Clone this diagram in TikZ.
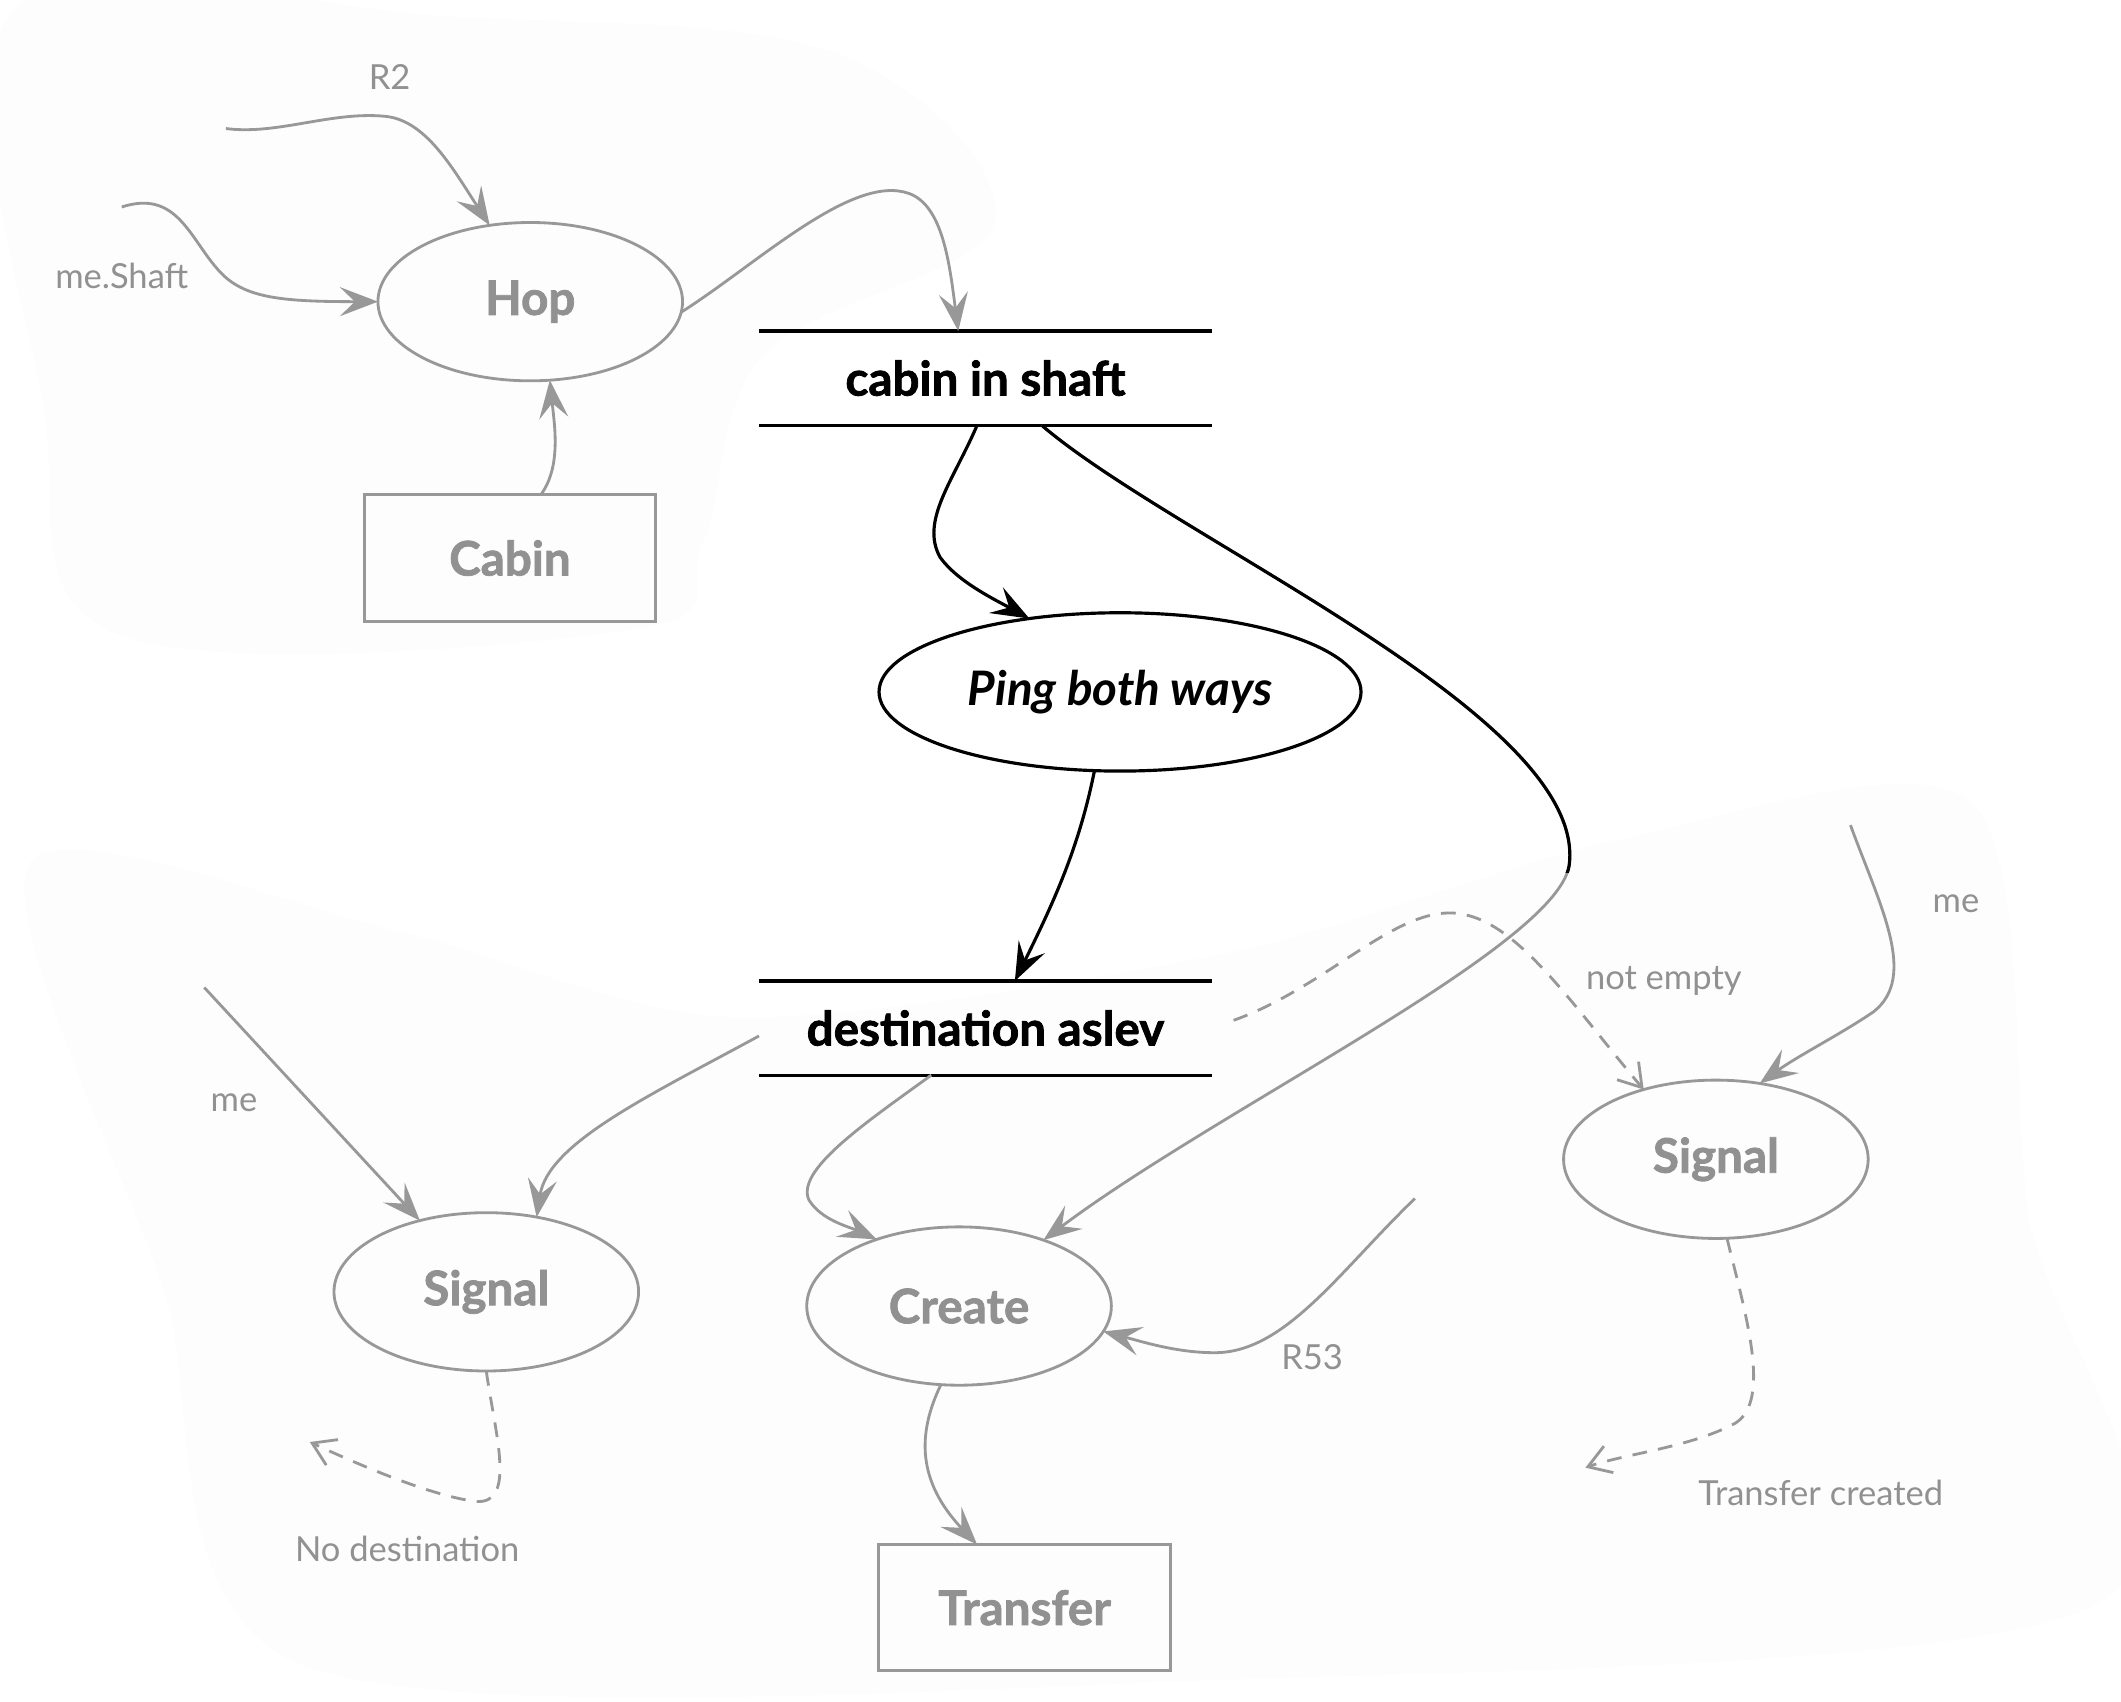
\documentclass[tikz,border=0pt]{standalone}
\usepackage{fontspec}
\setmainfont{Lato}[BoldFeatures={FakeBold=1.6}]
\usetikzlibrary{arrows.meta,shapes.geometric}
\definecolor{lg}{RGB}{152,152,152}
\definecolor{lgt}{RGB}{145,145,145}
\definecolor{bgc}{RGB}{253,253,253}
\begin{document}
\begin{tikzpicture}[x=0.135mm,y=-0.135mm,
  gnode/.style={draw=lg, text=lgt, line width=0.8pt, inner sep=0pt, outer sep=0pt,
    font=\bfseries\fontsize{13.5}{16}\selectfont},
  bnode/.style={draw=black, text=black, line width=0.9pt, inner sep=0pt, outer sep=0pt,
    font=\bfseries\fontsize{13.5}{16}\selectfont},
  gell/.style={gnode, ellipse, minimum width=30.4mm, minimum height=15.8mm},
  grect/.style={gnode, rectangle, minimum width=29.1mm, minimum height=12.6mm},
  storebox/.style={rectangle, draw=none, inner sep=0pt, outer sep=0pt, minimum width=45.2mm,
    minimum height=9.4mm, font=\bfseries\fontsize{13.5}{16}\selectfont},
  lbl/.style={text=lgt, inner sep=0pt, font=\fontsize{9.8}{12}\selectfont},
  ge/.style={draw=lg, line width=0.8pt, -{Stealth[length=3.8mm,width=2.9mm,inset=1.5mm]}},
  be/.style={draw=black, line width=0.9pt, -{Stealth[length=3.8mm,width=2.9mm,inset=1.5mm]}},
  de/.style={draw=lg, line width=0.8pt, dash pattern=on 4.2pt off 3.2pt,
    -{Straight Barb[length=2.2mm,width=2.8mm]}},
]
\useasboundingbox (0,0) rectangle (1568,1258);
% faint background regions
\fill[bgc] plot[smooth cycle, tension=0.6] coordinates {(12,6) (330,12) (620,40) (735,165) (565,262) (520,400) (470,465) (90,470) (32,300)};
\fill[bgc] plot[smooth cycle, tension=0.5] coordinates {(22,638) (300,690) (545,752) (905,705) (1200,620) (1458,594) (1500,900) (1552,1185) (900,1242) (226,1232) (120,950)};

% nodes
\node[gell] (hop) at (392,223) {Hop};
\node[grect] (cabin) at (377,412.5) {Cabin};
\node[storebox] (cis) at (728.5,279.5) {cabin in shaft};
\node[bnode, ellipse, minimum width=48.1mm, minimum height=15.8mm,
  font=\bfseries\itshape\fontsize{13.5}{16}\selectfont] (ping) at (828,511.5) {Ping both ways};
\node[storebox] (dest) at (728.5,760) {destination aslev};
\node[gell] (sigL) at (359.5,955) {Signal};
\node[gell] (create) at (709,965.5) {Create};
\node[grect] (transfer) at (757.5,1188.5) {Transfer};
\node[gell] (sigR) at (1268.5,857) {Signal};

\draw[black, line width=0.9pt] (cis.north west) -- (cis.north east);
\draw[black, line width=0.9pt] (cis.south west) -- (cis.south east);
\draw[black, line width=0.9pt] (dest.north west) -- (dest.north east);
\draw[black, line width=0.9pt] (dest.south west) -- (dest.south east);

% free ends
\coordinate (r2s) at (167,95);
\coordinate (mss) at (90,153);
\coordinate (meL) at (151,730);
\coordinate (r53s) at (1046,886);
\coordinate (meR) at (1368,610);
\coordinate (nodest) at (229,1066);
\coordinate (tcreated) at (1172,1085);

% labels
\node[lbl] (lr2) at (288,57) {R2};
\node[lbl] (lms) at (90,204) {me.Shaft};
\node[lbl] (lmeL) at (173,815) {me};
\node[lbl] (lne) at (1230,725) {not empty};
\node[lbl] (lmeR) at (1446,668) {me};
\node[lbl] (lr53) at (970,1003) {R53};
\node[lbl] (lnd) at (301,1145) {No destination};
\node[lbl] (ltc) at (1346,1104) {Transfer created};

% edges
\draw[ge] (r2s) .. controls (205,100) and (245,82) .. (285,86)
  .. controls (315,89) and (335,125) .. (hop.118);
\draw[ge] (mss) .. controls (130,140) and (140,175) .. (160,198)
  .. controls (178,220) and (205,223) .. (hop.180);
\draw[ge] (cabin.64) .. controls (415,345) and (410,315) .. (hop.-76);
\draw[ge] (hop.-4) .. controls (560,195) and (630,128) .. (672,143)
  .. controls (697,152) and (702,195) .. (cis.120.7);
\draw[be] (cis.-100.7) .. controls (705,355) and (680,385) .. (695,412)
  .. controls (708,430) and (735,443) .. (ping.141.5);
% long edge: black near the top, grey below
\draw[ge] (cis.-40) .. controls (870,400) and (1175,530) .. (1160,640)
  .. controls (1150,700) and (900,820) .. (create.38);
\begin{scope}
  \clip (700,300) rectangle (1250,645);
  \draw[black, line width=0.9pt] (cis.-40) .. controls (870,400) and (1175,530) .. (1160,640)
    .. controls (1150,700) and (900,820) .. (create.38);
\end{scope}
\draw[be] (ping.-108.9) .. controls (798,625) and (780,665) .. (dest.58.4);
\draw[ge] (dest.182) .. controls (480,810) and (405,845) .. (sigL.56.8);
\draw[ge] (meL) -- (sigL.133.8);
\draw[ge] (dest.-139.1) .. controls (640,830) and (588,865) .. (598,887)
  .. controls (607,902) and (628,907) .. (create.141.4);
\draw[ge] (r53s) .. controls (990,940) and (950,1000) .. (898,1000)
  .. controls (870,1000) and (845,992) .. (create.-10.7);
\draw[ge] (create.-103.5) .. controls (678,1060) and (678,1095) .. (transfer.127.4);
\draw[de] (sigL.-90) .. controls (366,1060) and (382,1112) .. (352,1110)
  .. controls (320,1106) and (270,1085) .. (nodest);
\draw[de, shorten <=2.3mm] (dest.east) .. controls (980,730) and (1030,672) .. (1075,675)
  .. controls (1120,678) and (1160,740) .. (sigR.136.8);
\draw[ge] (meR) .. controls (1390,670) and (1418,722) .. (1385,748)
  .. controls (1360,765) and (1330,780) .. (sigR.60.3);
\draw[de] (sigR.-82) .. controls (1290,970) and (1310,1035) .. (1283,1052)
  .. controls (1250,1070) and (1200,1075) .. (tcreated);
\end{tikzpicture}
\end{document}
